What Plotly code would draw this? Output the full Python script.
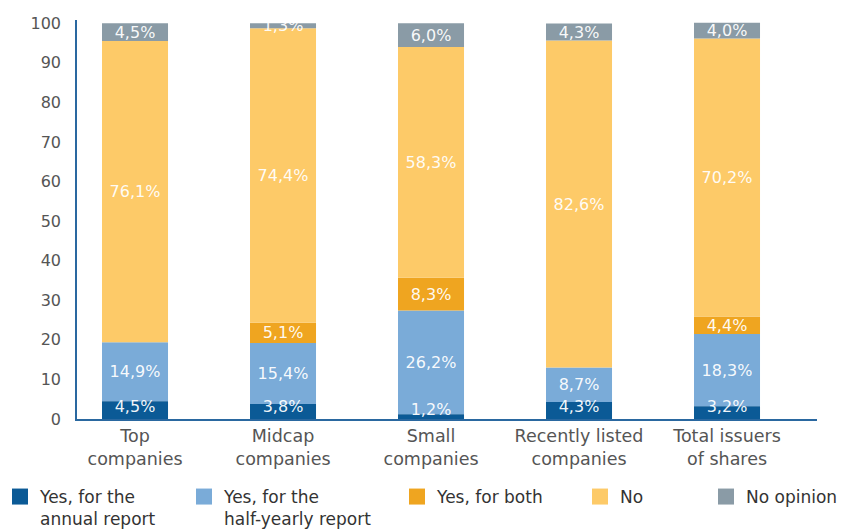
import numpy as np
import plotly.graph_objects as go

categories = ["Top<br>companies", "Midcap<br>companies", "Small<br>companies",
              "Recently listed<br>companies", "Total issuers<br>of shares"]
series_names = ["Yes, for the<br>annual report", "Yes, for the<br>half-yearly report",
                "Yes, for both", "No", "No opinion"]
yes_annual = [4.5, 3.8, 1.2, 4.3, 3.2]
yes_half = [14.9, 15.4, 26.2, 8.7, 18.3]
yes_both = [0, 5.1, 8.3, 0, 4.4]
no = [76.1, 74.4, 58.3, 82.6, 70.2]
no_opinion = [4.5, 1.3, 6.0, 4.3, 4.0]
y_ticks = [0, 10, 20, 30, 40, 50, 60, 70, 80, 90, 100]

series_values = [yes_annual, yes_half, yes_both, no, no_opinion]
colors = ["#0b5a96", "#7aabd8", "#efa520", "#fdca68", "#8a9ba6"]

W, H = 847, 531
legend_px = [0, 176, 389, 572, 698]
legend_indent = [-8, 0, 0, 0, 0]
legend_names = ["legend", "legend2", "legend3", "legend4", "legend5"]
# drawing order so that overflowing labels of thin segments stay visible
draw_order = [1, 2, 3, 4, 0]


def fmt(v):
    return "" if v == 0 else f"{v:.1f}".replace(".", ",") + "%"


# stacked bases: each series starts where the previous ones end
bases = [np.sum(np.array(series_values[:i]), axis=0) if i > 0 else np.zeros(len(categories))
         for i in range(len(series_values))]

FONT = "DejaVu Sans"
fig = go.Figure()
for i in draw_order:
    vals = series_values[i]
    fig.add_trace(go.Bar(
        x=categories, y=vals, base=bases[i], name=series_names[i],
        marker=dict(color=colors[i], line=dict(width=0)),
        text=[fmt(v) for v in vals],
        textposition="inside",
        insidetextanchor=("start" if i == 0 else "middle"),
        textangle=0,
        textfont=dict(family=FONT, size=16, color="rgba(255,255,255,0.95)"),
        showlegend=False,
        cliponaxis=(i != 0),
    ))
# legend swatches (draw nothing on the plot)
for name, col, lg in zip(series_names, colors, legend_names):
    fig.add_trace(go.Scatter(
        x=[None], y=[None], mode="markers", name=name,
        marker=dict(symbol="square", size=18, color=col),
        showlegend=True, legend=lg,
    ))

layout_legends = {}
for lg, px, ind in zip(legend_names, legend_px, legend_indent):
    layout_legends[lg] = dict(
        x=px / W, xref="container", xanchor="left",
        y=1 - 471 / H, yref="container", yanchor="top",
        orientation="h", valign="top", bgcolor="rgba(0,0,0,0)",
        itemsizing="trace", indentation=ind,
        font=dict(family=FONT, size=17, color="#333333"),
    )

fig.update_layout(
    width=W, height=H,
    barmode="overlay", bargap=0.554,
    plot_bgcolor="white", paper_bgcolor="white",
    margin=dict(l=69, r=38, t=12, b=120, autoexpand=False),
    uniformtext=dict(mode="show", minsize=16),
    showlegend=True,
    **layout_legends,
)
fig.update_xaxes(
    range=[-0.392, 4.608], showgrid=False, showline=True,
    linecolor="#2a68a0", linewidth=1.5, ticks="",
    tickfont=dict(family=FONT, size=17.5, color="#555555"),
)
fig.update_yaxes(
    range=[0, 100.8], tickvals=y_ticks, showgrid=False, showline=True,
    linecolor="#2a68a0", linewidth=1.5, ticks="", zeroline=False,
    ticklabelstandoff=11,
    tickfont=dict(family=FONT, size=16, color="#555555"),
)

fig.write_html("out.html")
